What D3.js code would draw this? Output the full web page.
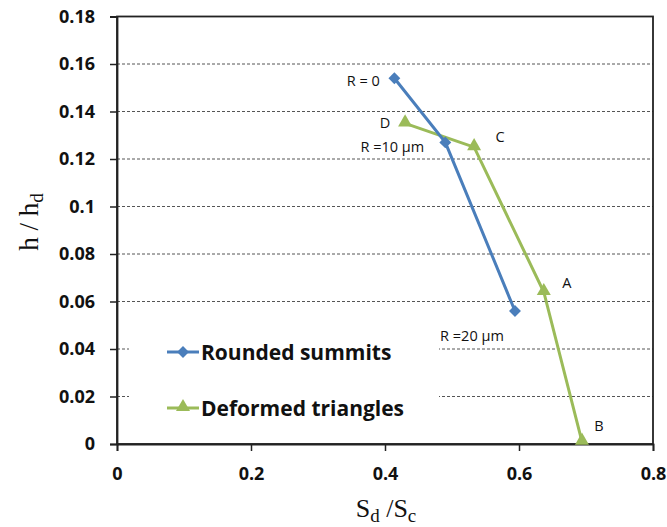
<!DOCTYPE html>
<html><head><meta charset="utf-8">
<script src="https://cdn.jsdelivr.net/npm/d3@7"></script>
<style>body{margin:0;background:#fff}</style>
</head><body>
<script>
const xTicks = [0, 0.2, 0.4, 0.6, 0.8];
const yTicks = [0, 0.02, 0.04, 0.06, 0.08, 0.1, 0.12, 0.14, 0.16, 0.18];
const yTickLabels = ["0", "0.02", "0.04", "0.06", "0.08", "0.1", "0.12", "0.14", "0.16", "0.18"];
const roundedX = [0.414, 0.490, 0.594];
const roundedY = [0.154, 0.127, 0.056];
const roundedLabels = ["R = 0", "R =10 μm", "R =20 μm"];
const deformedX = [0.430, 0.533, 0.637, 0.694];
const deformedY = [0.135, 0.125, 0.064, 0.001];
const deformedLabels = ["D", "C", "A", "B"];
const seriesNames = ["Rounded summits", "Deformed triangles"];

const W = 667, H = 527;
const svg = d3.select("body").append("svg").attr("width", W).attr("height", H);
const x = d3.scaleLinear().domain([0, 0.8]).range([117, 653]);
const y = d3.scaleLinear().domain([0, 0.18]).range([444, 16.5]);
const blue = "#4a7ebb", green = "#9bbb59";

// gridlines
svg.append("g").selectAll("line").data(yTicks.filter(d => d > 0 && d < 0.18)).join("line")
  .attr("x1", x(0)).attr("x2", x(0.8)).attr("y1", d => y(d)).attr("y2", d => y(d))
  .attr("stroke", "#555").attr("stroke-width", 1).attr("stroke-dasharray", "3,2");

// legend box (white, hides gridlines)
svg.append("rect").attr("x", 129).attr("y", 318).attr("width", 310).attr("height", 120).attr("fill", "#fff");

// frame
svg.append("rect").attr("x", x(0)).attr("y", y(0.18)).attr("width", x(0.8) - x(0)).attr("height", y(0) - y(0.18))
  .attr("fill", "none").attr("stroke", "#222").attr("stroke-width", 1.8);

// axes
const yAxis = d3.axisLeft(y).tickValues(yTicks).tickFormat((d, i) => yTickLabels[i]).tickSizeOuter(0).tickSize(7).tickPadding(15);
const gy = svg.append("g").attr("transform", `translate(${x(0)},0)`).call(yAxis);
const xAxis = d3.axisBottom(x).tickValues(xTicks).tickFormat(d => d === 0 ? "0" : d3.format(".1f")(d)).tickSizeOuter(0).tickSize(7).tickPadding(16);
const gx = svg.append("g").attr("transform", `translate(0,${y(0)})`).call(xAxis);
[gx, gy].forEach(g => {
  g.select(".domain").attr("stroke", "#222").attr("stroke-width", 1.8);
  g.selectAll(".tick line").attr("stroke", "#222").attr("stroke-width", 1.5);
  g.selectAll(".tick text").attr("fill", "#111").style("font-family", "'Open Sans', sans-serif")
    .style("font-weight", "bold").style("font-size", "18px");
});

// series
const line = d3.line().x(d => x(d[0])).y(d => y(d[1]));
const rData = roundedX.map((v, i) => [v, roundedY[i]]);
const dData = deformedX.map((v, i) => [v, deformedY[i]]);
svg.append("path").datum(dData).attr("d", line).attr("fill", "none").attr("stroke", green).attr("stroke-width", 3);
svg.append("path").datum(rData).attr("d", line).attr("fill", "none").attr("stroke", blue).attr("stroke-width", 3);
const diamond = d3.symbol().type(d3.symbolDiamond2).size(90);
const tri = d3.symbol().type(d3.symbolTriangle).size(85);
svg.append("g").selectAll("path").data(dData).join("path").attr("d", tri)
  .attr("transform", d => `translate(${x(d[0])},${y(d[1]) - 1})`).attr("fill", green);
svg.append("g").selectAll("path").data(rData).join("path").attr("d", diamond)
  .attr("transform", d => `translate(${x(d[0])},${y(d[1])})`).attr("fill", blue);

// point labels
const lblFont = "'Open Sans', sans-serif";
const rOff = [[-31, 8], [-53, 10], [-43, 30]];
svg.append("g").selectAll("text").data(rData).join("text")
  .attr("x", (d, i) => x(d[0]) + rOff[i][0]).attr("y", (d, i) => y(d[1]) + rOff[i][1])
  .attr("text-anchor", "middle").attr("font-family", lblFont).attr("font-size", 14.5).attr("fill", "#111")
  .text((d, i) => roundedLabels[i]);
const dOff = [[-20, 5], [26, -5], [23, -4], [17, -11]];
svg.append("g").selectAll("text").data(dData).join("text")
  .attr("x", (d, i) => x(d[0]) + dOff[i][0]).attr("y", (d, i) => y(d[1]) + dOff[i][1])
  .attr("text-anchor", "middle").attr("font-family", lblFont).attr("font-size", 14.5).attr("fill", "#111")
  .text((d, i) => deformedLabels[i]);

// legend
const leg = svg.append("g");
[[blue, 352, diamond], [green, 408, tri]].forEach((c, i) => {
  leg.append("line").attr("x1", 167).attr("x2", 199).attr("y1", c[1]).attr("y2", c[1]).attr("stroke", c[0]).attr("stroke-width", 3);
  leg.append("path").attr("d", c[2]).attr("transform", `translate(183,${c[1] - (i ? 1 : 0)})`).attr("fill", c[0]);
  leg.append("text").attr("x", 201).attr("y", c[1] + 8).attr("font-family", lblFont).attr("font-weight", "bold")
    .attr("font-size", 21).attr("fill", "#111").text(seriesNames[i]);
});

// axis titles
const serif = "'Liberation Serif', 'DejaVu Serif', serif";
const yt = svg.append("text").attr("transform", "translate(38,222) rotate(-90)").attr("text-anchor", "middle")
  .attr("font-family", serif).attr("font-size", 27).attr("fill", "#111");
yt.append("tspan").text("h / h");
yt.append("tspan").attr("font-size", 19).attr("dy", 5).text("d");
const xt = svg.append("text").attr("x", 386).attr("y", 517).attr("text-anchor", "middle")
  .attr("font-family", serif).attr("font-size", 26).attr("fill", "#111");
xt.append("tspan").text("S");
xt.append("tspan").attr("font-size", 19).attr("dy", 5).text("d");
xt.append("tspan").attr("dy", -5).text(" /S");
xt.append("tspan").attr("font-size", 19).attr("dy", 5).text("c");
</script>
</body></html>
